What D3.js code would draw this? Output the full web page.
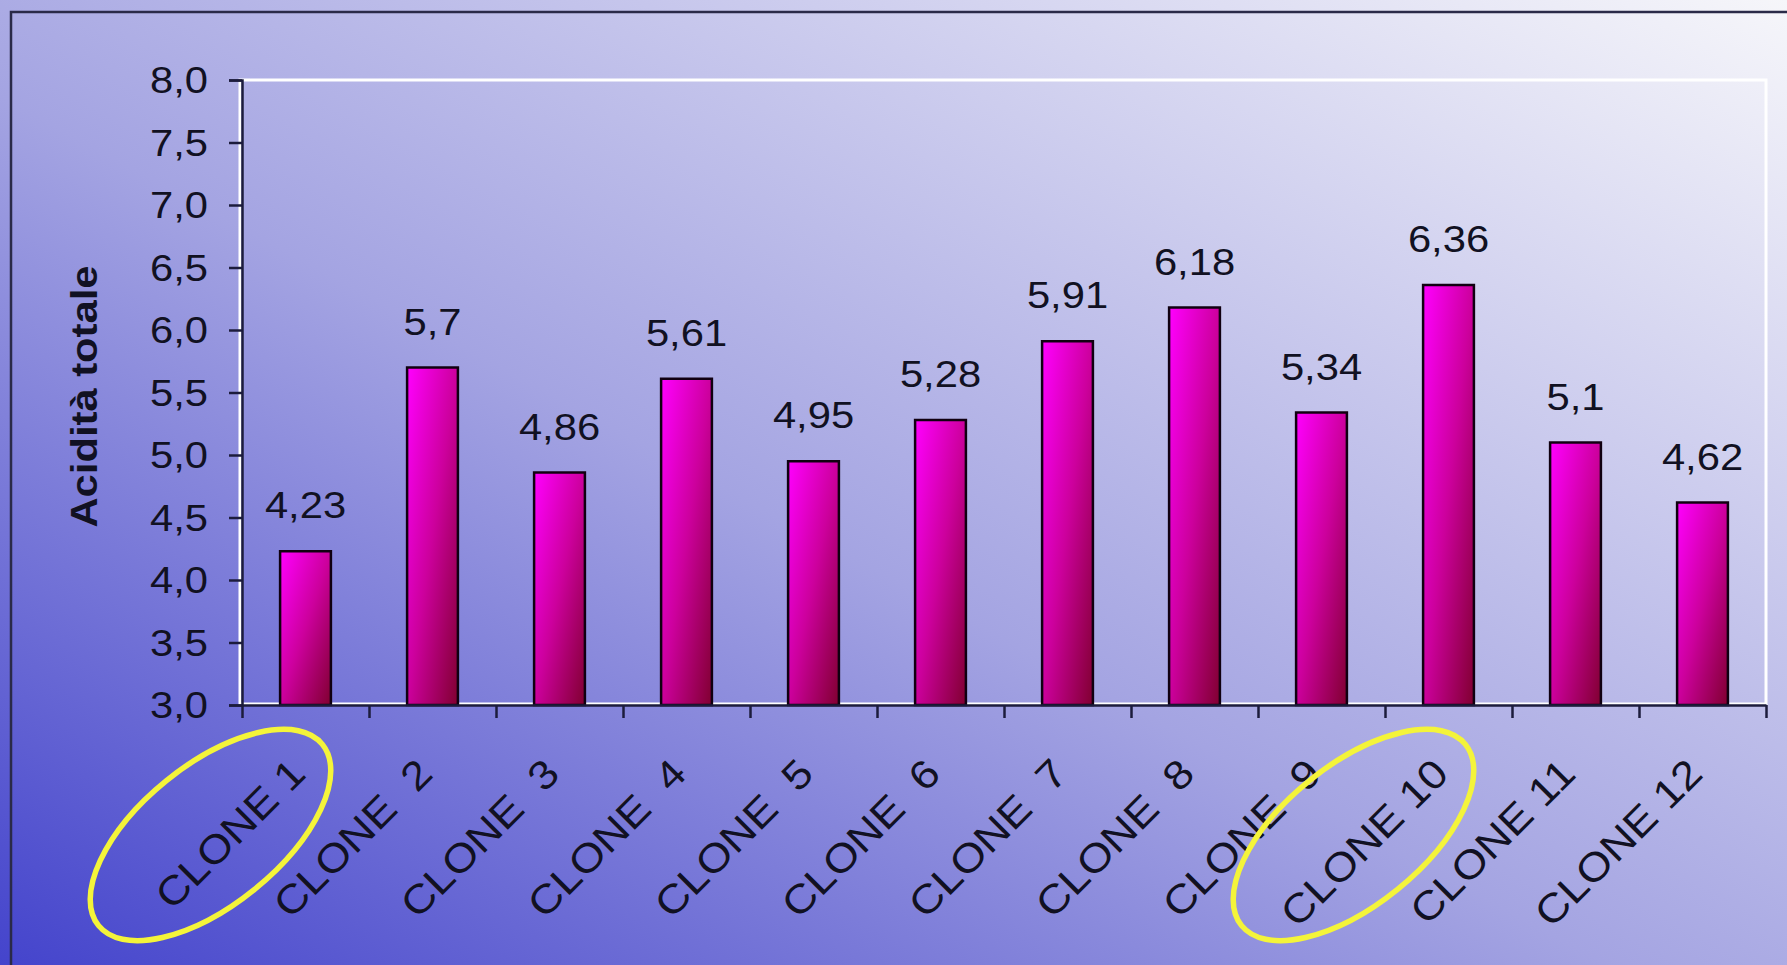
<!DOCTYPE html>
<html>
<head>
<meta charset="utf-8">
<script src="https://cdn.jsdelivr.net/npm/d3@7"></script>
<style>
  body { margin: 0; background: #c8c8ec; }
  svg text { font-family: "Liberation Sans", Arial, sans-serif; fill: #111122; }
</style>
</head>
<body>
<div id="chart"></div>
<script>
// Chart data
const categories = ["CLONE 1", "CLONE  2", "CLONE  3", "CLONE  4", "CLONE  5", "CLONE  6",
  "CLONE  7", "CLONE  8", "CLONE  9", "CLONE 10", "CLONE 11", "CLONE 12"];
const values = [4.23, 5.7, 4.86, 5.61, 4.95, 5.28, 5.91, 6.18, 5.34, 6.36, 5.1, 4.62];
const yTicks = [3.0, 3.5, 4.0, 4.5, 5.0, 5.5, 6.0, 6.5, 7.0, 7.5, 8.0];
const highlighted = ["CLONE 1", "CLONE 10"];
const yTitle = "Acidità totale";

const W = 1787, H = 965;
const margin = { top: 80, right: 21, bottom: 260, left: 242 };
const width = W - margin.left - margin.right;
const height = H - margin.top - margin.bottom;
const stretch = 1.16; // text in the reference is drawn a bit wide

const svg = d3.select("#chart").append("svg")
  .attr("width", W)
  .attr("height", H);

const defs = svg.append("defs");

// page background gradient, dark blue bottom-left to near white top-right
const bg = defs.append("linearGradient").attr("id", "bg")
  .attr("x1", 0).attr("y1", 1).attr("x2", 1).attr("y2", 0);
bg.append("stop").attr("offset", "0%").attr("stop-color", "#4444cc");
bg.append("stop").attr("offset", "45%").attr("stop-color", "#a4a4e2");
bg.append("stop").attr("offset", "100%").attr("stop-color", "#f6f6fa");

// bar gradient
const bar = defs.append("linearGradient").attr("id", "bar")
  .attr("x1", 0).attr("y1", 0).attr("x2", 1).attr("y2", 1);
bar.append("stop").attr("offset", "0%").attr("stop-color", "#ff00ff");
bar.append("stop").attr("offset", "50%").attr("stop-color", "#cc009c");
bar.append("stop").attr("offset", "100%").attr("stop-color", "#800030");

svg.append("rect").attr("width", W).attr("height", H).attr("fill", "url(#bg)");

// outer frame (only top and left edges are visible)
svg.append("path")
  .attr("d", `M11,${H} V12 H${W}`)
  .attr("fill", "none")
  .attr("stroke", "#2a2a48")
  .attr("stroke-width", 2.5);

const g = svg.append("g").attr("transform", `translate(${margin.left},${margin.top})`);

// Scales
const x = d3.scaleBand().domain(categories).range([0, width]).paddingInner(0.6).paddingOuter(0.3);
const xEdges = d3.scaleLinear().domain([0, categories.length]).range([0, width]);
const y = d3.scaleLinear().domain([3, 8]).range([height, 0]);

// plot area white border
g.append("rect")
  .attr("x", -2).attr("y", 0)
  .attr("width", width + 2).attr("height", height - 1)
  .attr("fill", "none")
  .attr("stroke", "#ffffff")
  .attr("stroke-width", 3);

// Bars
g.selectAll(".bar")
  .data(values)
  .enter()
  .append("rect")
  .attr("class", "bar")
  .attr("x", (d, i) => x(categories[i]))
  .attr("y", (d) => y(d))
  .attr("width", x.bandwidth())
  .attr("height", (d) => y(3) - y(d))
  .attr("fill", "url(#bar)")
  .attr("stroke", "#100010")
  .attr("stroke-width", 2.5);

// Value labels
g.selectAll(".val")
  .data(values)
  .enter()
  .append("text")
  .attr("class", "val")
  .attr("text-anchor", "middle")
  .attr("font-size", 36)
  .attr("transform", (d, i) =>
    `translate(${x(categories[i]) + x.bandwidth() / 2},${y(d) - 33}) scale(${stretch},1)`)
  .text((d) => String(d).replace(".", ","));

// Y axis
const yAxis = g.append("g")
  .call(d3.axisLeft(y).tickValues(yTicks).tickSize(13).tickFormat((d) => d3.format(".1f")(d).replace(".", ",")));
yAxis.select(".domain").attr("stroke", "#1c1c3c").attr("stroke-width", 2.5);
yAxis.selectAll(".tick line").attr("stroke", "#1c1c3c").attr("stroke-width", 2.5);
yAxis.selectAll(".tick text")
  .attr("x", null)
  .attr("dy", "0.36em")
  .attr("font-size", 36)
  .attr("transform", `translate(-34,0) scale(${stretch},1)`);

// X axis with ticks at band edges
const xAxis = g.append("g")
  .attr("transform", `translate(0,${height})`)
  .call(d3.axisBottom(xEdges).tickValues(d3.range(categories.length + 1)).tickSize(13).tickSizeOuter(0).tickFormat(""));
xAxis.select(".domain").attr("stroke", "#1c1c3c").attr("stroke-width", 2.5);
xAxis.selectAll(".tick line").attr("stroke", "#1c1c3c").attr("stroke-width", 2.5);

// Category labels, rotated
g.selectAll(".cat")
  .data(categories)
  .enter()
  .append("text")
  .attr("class", "cat")
  .attr("text-anchor", "end")
  .attr("font-size", 40)
  .style("white-space", "pre")
  .attr("transform", (d) =>
    `translate(${x(d) + x.bandwidth() / 2 + 2},${height + 71}) rotate(-45) scale(1.12,1)`)
  .text((d) => d);

// Yellow ellipses around highlighted clones
g.selectAll(".hl")
  .data(highlighted)
  .enter()
  .append("ellipse")
  .attr("class", "hl")
  .attr("cx", 0).attr("cy", 0)
  .attr("rx", 144).attr("ry", 70)
  .attr("transform", (d) => `translate(${x(d) + x.bandwidth() / 2 - 95},${height + 130}) rotate(-39)`)
  .attr("fill", "none")
  .attr("stroke", "#f4f43a")
  .attr("stroke-width", 5.5);

// Y axis title
svg.append("text")
  .attr("text-anchor", "middle")
  .attr("font-size", 36)
  .attr("font-weight", "bold")
  .attr("transform", `translate(97,${margin.top + height / 2 + 4}) rotate(-90) scale(${stretch},1)`)
  .text(yTitle);
</script>
</body>
</html>
